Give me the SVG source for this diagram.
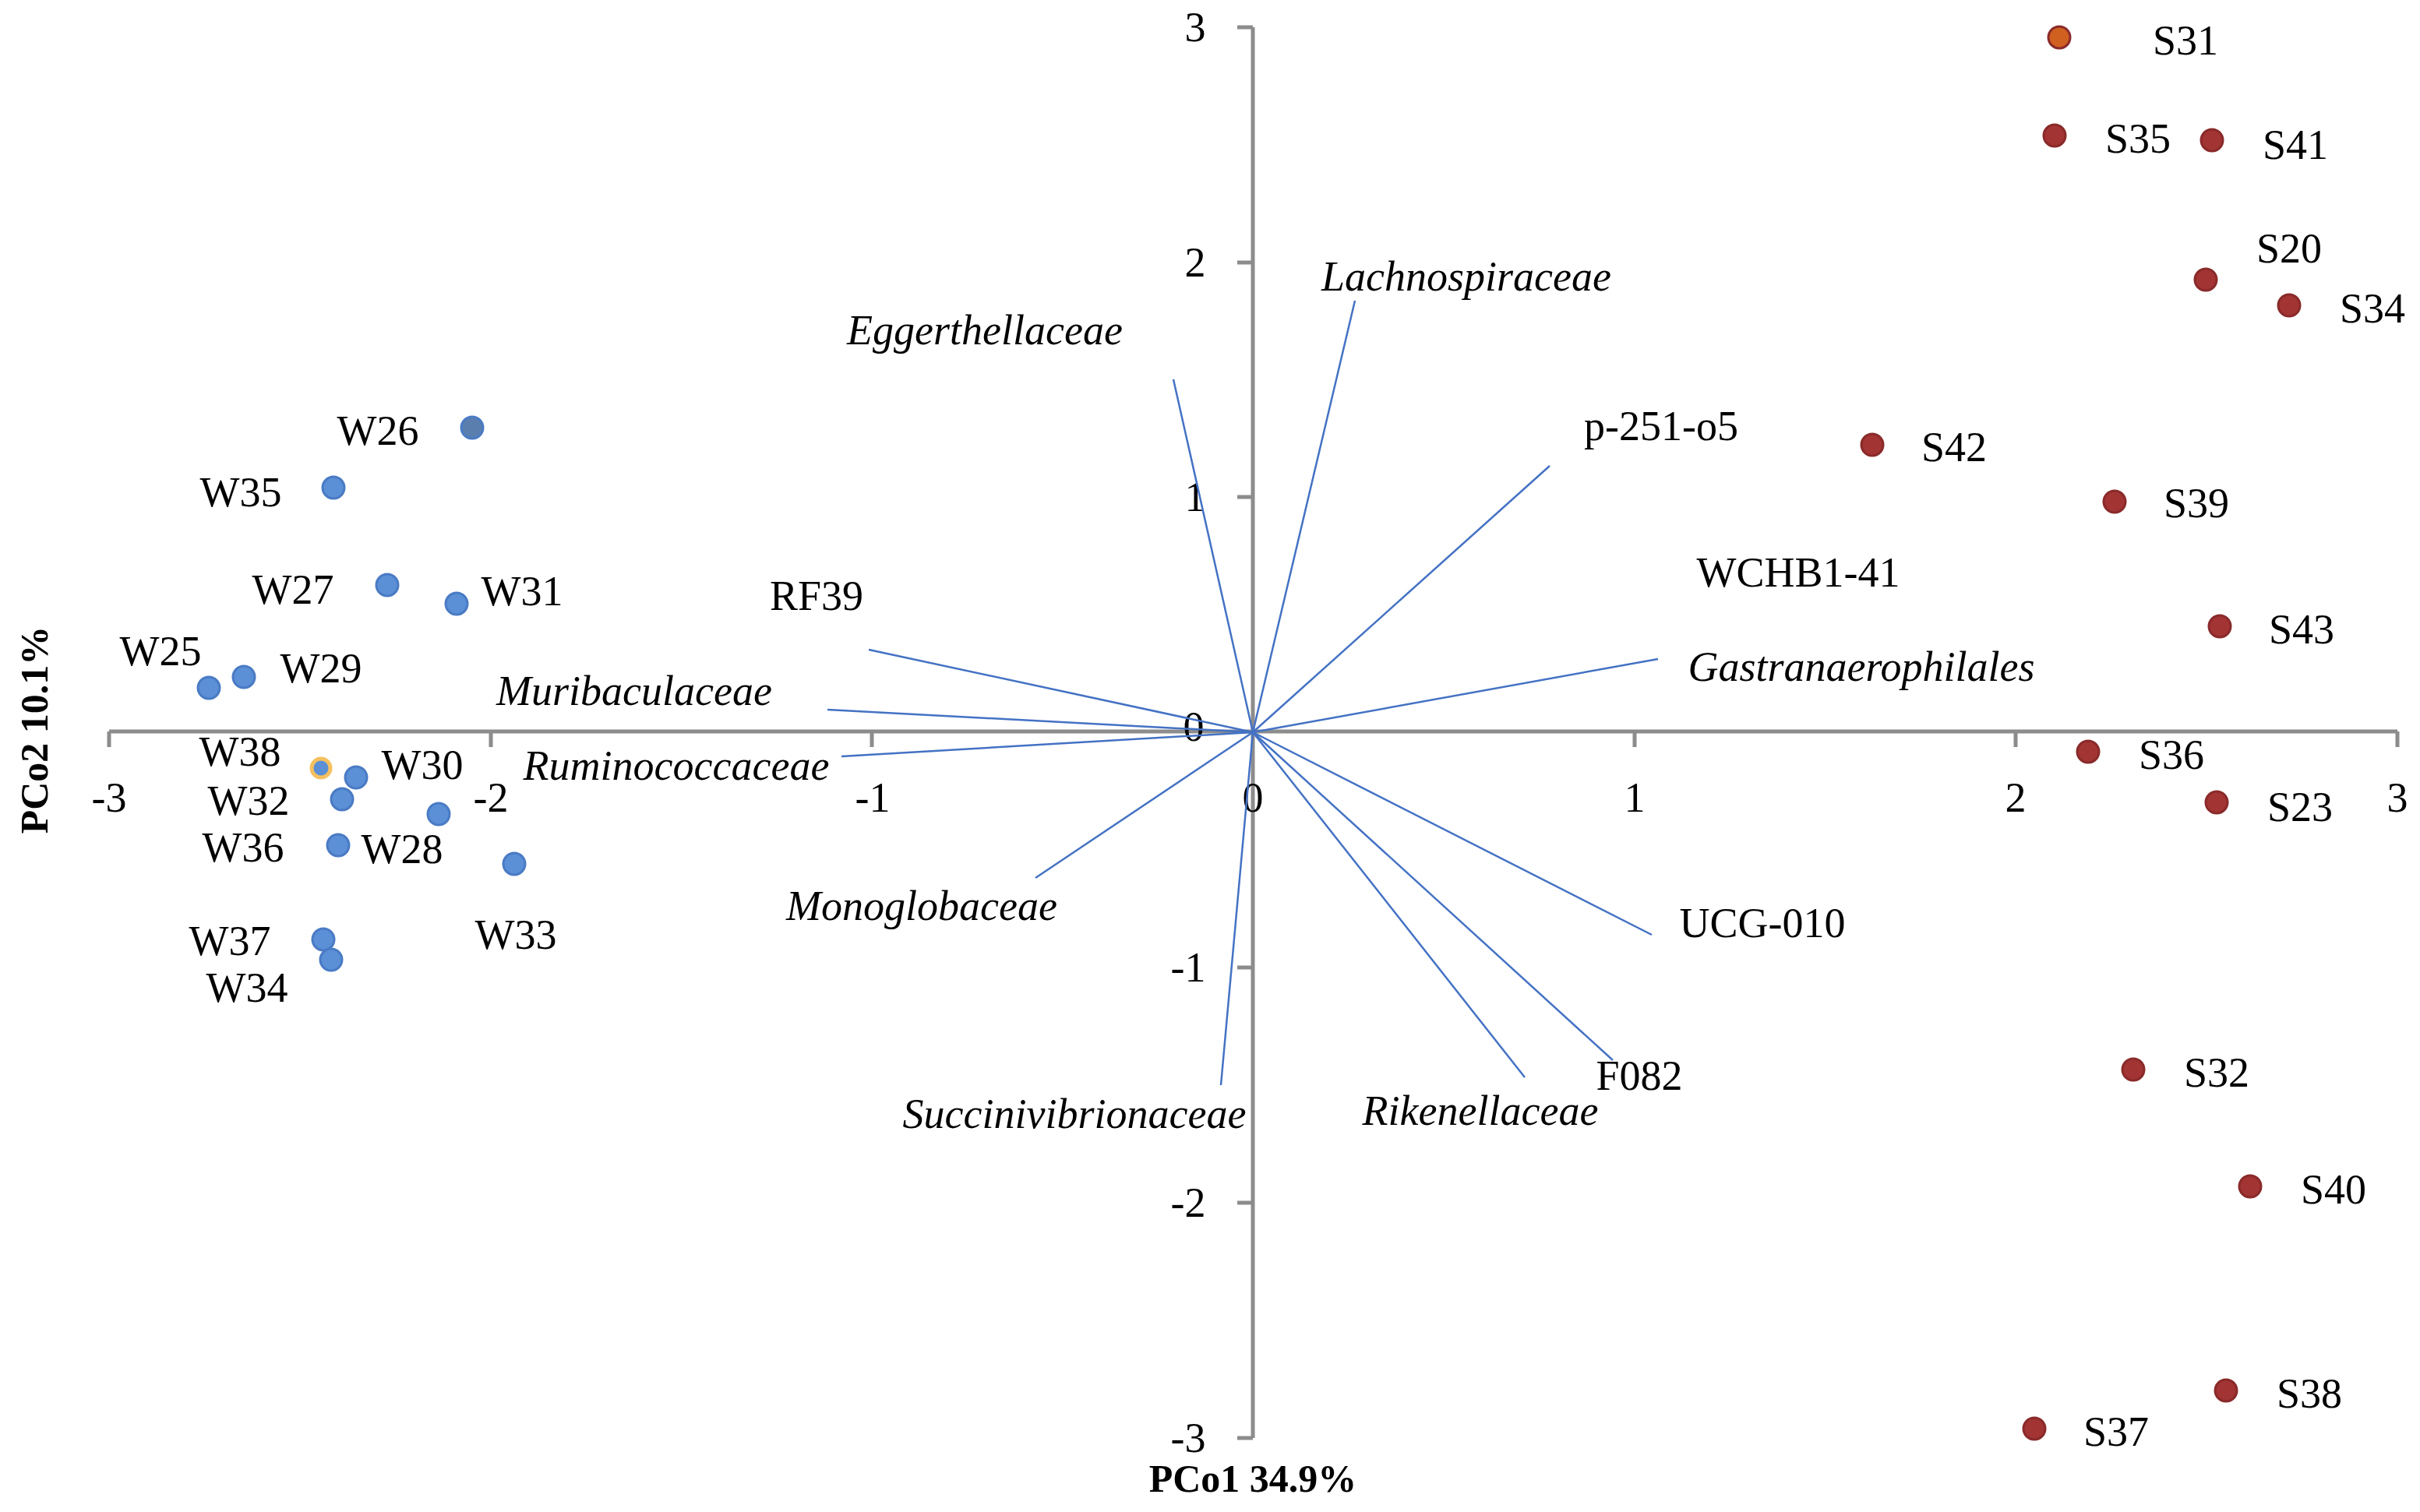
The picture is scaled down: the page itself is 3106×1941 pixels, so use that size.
<svg xmlns="http://www.w3.org/2000/svg" width="3106" height="1941" viewBox="0 0 3106 1941">
<style>
text{font-family:"Liberation Serif","DejaVu Serif",serif;font-size:54px;fill:#000;text-anchor:middle;dominant-baseline:central}
.it{font-style:italic}
.ax{stroke:#8c8c8c;stroke-width:5;fill:none}
.v{stroke:#4472c4;stroke-width:2.5}
.w{fill:#5b8fd6;stroke:#4a7bc4;stroke-width:3}
.s{fill:#a23434;stroke:#8a2a2a;stroke-width:3}
.t{font-weight:bold;font-size:50px}
</style>
<rect width="3106" height="1941" fill="#fff"/>
<g id="axes">
<path class="ax" d="M140 939H3077M1608 35V1846"/>
<path class="ax" d="M140 939v20M630 939v20M1119 939v20M2098 939v20M2587 939v20M3077 939v20"/>
<path class="ax" d="M1588 35h20M1588 337h20M1588 638h20M1588 1242h20M1588 1544h20M1588 1846h20"/>
<text x="140" y="1024">-3</text><text x="630" y="1024">-2</text><text x="1120" y="1024">-1</text><text x="1608" y="1024">0</text><text x="2098" y="1024">1</text><text x="2587" y="1024">2</text><text x="3077" y="1024">3</text>
<text x="1534" y="35">3</text><text x="1534" y="337">2</text><text x="1534" y="638">1</text><text x="1532" y="933">0</text><text x="1525" y="1242">-1</text><text x="1525" y="1544">-2</text><text x="1525" y="1846">-3</text>
<text class="t" x="1608" y="1898">PCo1 34.9%</text>
<text class="t" transform="translate(44 937) rotate(-90)">PCo2 10.1%</text>
</g>
<g id="connectors">
<line class="v" x1="1608" y1="940" x2="1739" y2="386"/>
<line class="v" x1="1608" y1="940" x2="1506" y2="487"/>
<line class="v" x1="1608" y1="940" x2="1989" y2="598"/>
<line class="v" x1="1608" y1="940" x2="2128" y2="846"/>
<line class="v" x1="1608" y1="940" x2="1115" y2="834"/>
<line class="v" x1="1608" y1="940" x2="1062" y2="911"/>
<line class="v" x1="1608" y1="940" x2="1080" y2="971"/>
<line class="v" x1="1608" y1="940" x2="1329" y2="1127"/>
<line class="v" x1="1608" y1="940" x2="1567" y2="1393"/>
<line class="v" x1="1608" y1="940" x2="1957" y2="1383"/>
<line class="v" x1="1608" y1="940" x2="2070" y2="1361"/>
<line class="v" x1="1608" y1="940" x2="2120" y2="1200"/>
</g>
<g id="vector-labels">
<text class="it" x="1882" y="355">Lachnospiraceae</text>
<text class="it" x="1264" y="424">Eggerthellaceae</text>
<text x="2132" y="547">p-251-o5</text>
<text x="2308" y="735">WCHB1-41</text>
<text class="it" x="2389" y="856">Gastranaerophilales</text>
<text x="1048" y="765">RF39</text>
<text class="it" x="814" y="887">Muribaculaceae</text>
<text class="it" x="868" y="983">Ruminococcaceae</text>
<text class="it" x="1183" y="1163">Monoglobaceae</text>
<text class="it" x="1379" y="1430">Succinivibrionaceae</text>
<text class="it" x="1900" y="1426">Rikenellaceae</text>
<text x="2104" y="1381">F082</text>
<text x="2262" y="1185">UCG-010</text>
</g>
<g id="W-samples">
<circle class="w" cx="606" cy="549" r="14" style="fill:#5a7fae"/><circle class="w" cx="428" cy="626" r="14"/><circle class="w" cx="497" cy="751" r="14"/><circle class="w" cx="586" cy="775" r="14"/>
<circle class="w" cx="268" cy="883" r="14"/><circle class="w" cx="313" cy="869" r="14"/><circle class="w" cx="412" cy="986" r="12" style="stroke:#f5c060;stroke-width:5"/><circle class="w" cx="457" cy="998" r="14"/>
<circle class="w" cx="439" cy="1026" r="14"/><circle class="w" cx="563" cy="1045" r="14"/><circle class="w" cx="434" cy="1085" r="14"/><circle class="w" cx="660" cy="1109" r="14"/>
<circle class="w" cx="415" cy="1206" r="14"/><circle class="w" cx="425" cy="1232" r="14"/>
<text x="485" y="553">W26</text><text x="309" y="632">W35</text><text x="376" y="757">W27</text><text x="670" y="759">W31</text>
<text x="206" y="836">W25</text><text x="412" y="858">W29</text><text x="308" y="965">W38</text><text x="542" y="982">W30</text>
<text x="319" y="1028">W32</text><text x="312" y="1088">W36</text><text x="516" y="1090">W28</text><text x="662" y="1200">W33</text>
<text x="295" y="1208">W37</text><text x="317" y="1268">W34</text>
</g>
<g id="S-samples">
<circle class="s" cx="2643" cy="48" r="14" style="fill:#d06020"/><circle class="s" cx="2637" cy="174" r="14"/><circle class="s" cx="2839" cy="180" r="14"/><circle class="s" cx="2831" cy="359" r="14"/>
<circle class="s" cx="2938" cy="392" r="14"/><circle class="s" cx="2403" cy="571" r="14"/><circle class="s" cx="2714" cy="644" r="14"/><circle class="s" cx="2849" cy="804" r="14"/>
<circle class="s" cx="2680" cy="965" r="14"/><circle class="s" cx="2845" cy="1030" r="14"/><circle class="s" cx="2738" cy="1373" r="14"/><circle class="s" cx="2888" cy="1523" r="14"/>
<circle class="s" cx="2857" cy="1785" r="14"/><circle class="s" cx="2611" cy="1834" r="14"/>
<text x="2805" y="52">S31</text><text x="2744" y="178">S35</text><text x="2946" y="186">S41</text><text x="2938" y="319">S20</text>
<text x="3045" y="396">S34</text><text x="2508" y="574">S42</text><text x="2819" y="646">S39</text><text x="2954" y="808">S43</text>
<text x="2787" y="969">S36</text><text x="2952" y="1036">S23</text><text x="2845" y="1377">S32</text><text x="2995" y="1527">S40</text>
<text x="2964" y="1789">S38</text><text x="2716" y="1838">S37</text>
</g>
</svg>
